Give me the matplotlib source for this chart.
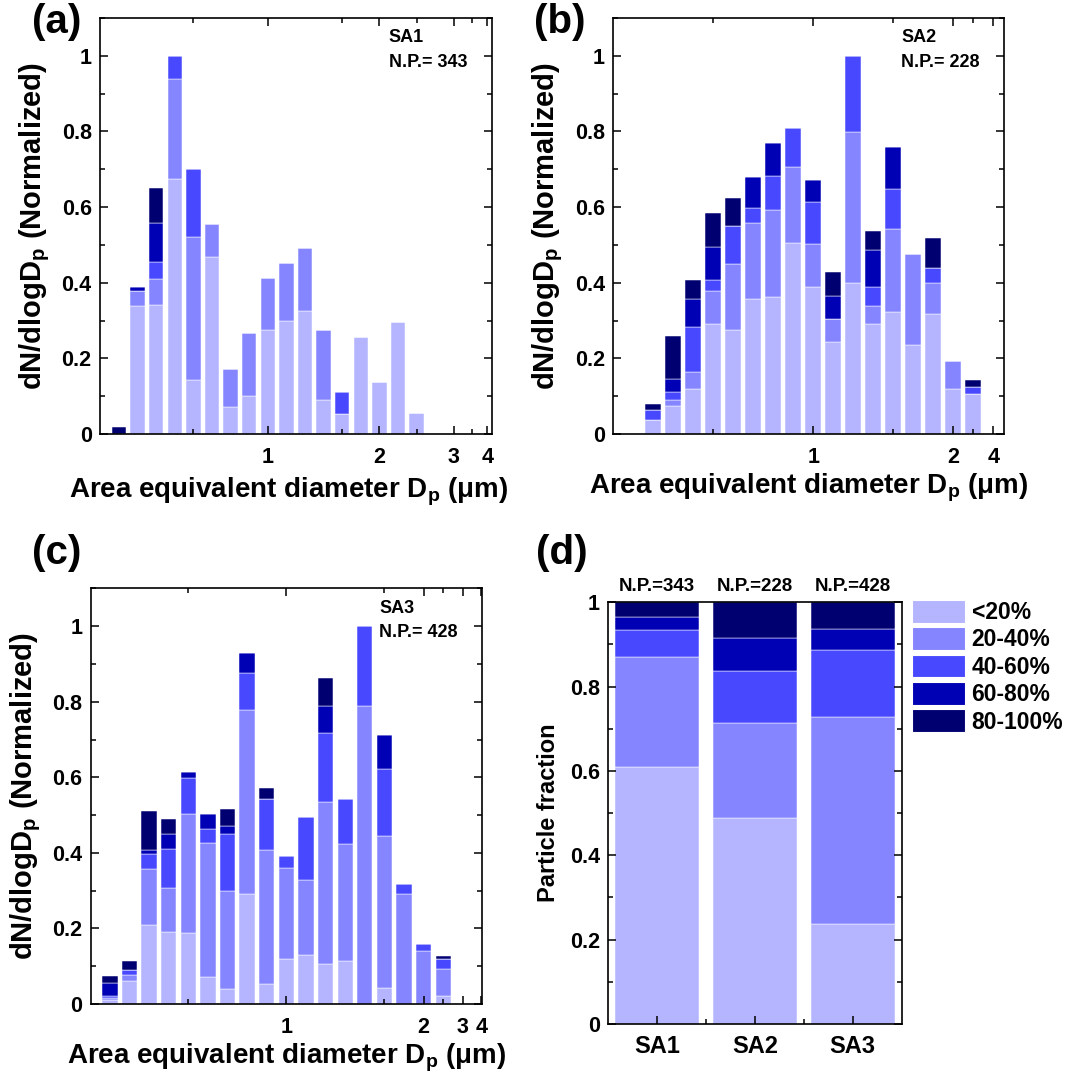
import matplotlib
matplotlib.use("Agg")
import matplotlib.pyplot as plt
from matplotlib.patches import Patch
from matplotlib.ticker import FixedLocator, MultipleLocator, FuncFormatter
from matplotlib.transforms import blended_transform_factory

plt.rcParams['font.family'] = ['Liberation Sans', 'DejaVu Sans']
plt.rcParams['font.weight'] = 'bold'
plt.rcParams['mathtext.fontset'] = 'custom'
plt.rcParams['mathtext.rm'] = 'Liberation Sans:bold'
plt.rcParams['mathtext.it'] = 'Liberation Sans:bold'
plt.rcParams['mathtext.bf'] = 'Liberation Sans:bold'

# ---------------- data ----------------
classes = ['<20%', '20-40%', '40-60%', '60-80%', '80-100%']

# SA1: normalized dN/dlogDp per size bin, split by class
sa1_lt20 = [0, 0.339, 0.340, 0.675, 0.142, 0.467, 0.072, 0.101, 0.274, 0.299, 0.325, 0.091, 0.054, 0.256, 0.138, 0.296, 0.056]
sa1_20_40 = [0, 0.039, 0.069, 0.264, 0.378, 0.087, 0.100, 0.165, 0.139, 0.154, 0.167, 0.184, 0, 0, 0, 0, 0]
sa1_40_60 = [0, 0, 0.046, 0.061, 0.182, 0, 0, 0, 0, 0, 0, 0, 0.058, 0, 0, 0, 0]
sa1_60_80 = [0, 0.011, 0.103, 0, 0, 0, 0, 0, 0, 0, 0, 0, 0, 0, 0, 0, 0]
sa1_80_100 = [0.018, 0, 0.092, 0, 0, 0, 0, 0, 0, 0, 0, 0, 0, 0, 0, 0, 0]

# SA2
sa2_lt20 = [0.038, 0.073, 0.118, 0.291, 0.275, 0.357, 0.361, 0.505, 0.390, 0.244, 0.398, 0.291, 0.323, 0.236, 0.317, 0.118, 0.106]
sa2_20_40 = [0, 0.018, 0.047, 0.087, 0.174, 0.200, 0.230, 0.202, 0.112, 0.060, 0.400, 0.048, 0.218, 0.240, 0.081, 0.074, 0]
sa2_40_60 = [0.026, 0.019, 0.119, 0.029, 0.102, 0.040, 0.090, 0.103, 0.112, 0, 0.202, 0.051, 0.107, 0, 0.040, 0, 0.018]
sa2_60_80 = [0, 0.036, 0.072, 0.088, 0, 0.082, 0.089, 0, 0.057, 0.062, 0, 0.096, 0.110, 0, 0, 0, 0]
sa2_80_100 = [0.015, 0.114, 0.051, 0.090, 0.072, 0, 0, 0, 0, 0.063, 0, 0.050, 0, 0, 0.081, 0, 0.019]

# SA3
sa3_lt20 = [0.012, 0.062, 0.209, 0.191, 0.187, 0.072, 0.040, 0.290, 0.052, 0.119, 0.129, 0.105, 0.114, 0, 0.043, 0, 0, 0.022]
sa3_20_40 = [0.004, 0.014, 0.148, 0.116, 0.316, 0.355, 0.258, 0.489, 0.355, 0.241, 0.198, 0.431, 0.310, 0.790, 0.401, 0.291, 0.141, 0.072]
sa3_40_60 = [0.006, 0.014, 0.039, 0.102, 0.095, 0.037, 0.152, 0.097, 0.136, 0.032, 0.169, 0.181, 0.119, 0.210, 0.177, 0.026, 0.017, 0.024]
sa3_60_80 = [0.033, 0, 0.011, 0.040, 0.017, 0.040, 0.020, 0.052, 0, 0, 0, 0.071, 0, 0, 0.092, 0, 0, 0]
sa3_80_100 = [0.019, 0.024, 0.103, 0.040, 0, 0, 0.047, 0, 0.029, 0, 0, 0.075, 0, 0, 0, 0, 0, 0.010]

# diameter tick labels (um)
diam_labels_sa1 = ['1', '2', '3', '4']
diam_labels_sa2 = ['1', '2', '4']
diam_labels_sa3 = ['1', '2', '3', '4']

# particle fraction per sample
samples = ['SA1', 'SA2', 'SA3']
particle_counts = [343, 228, 428]
frac_lt20 = [0.610, 0.489, 0.237]
frac_20_40 = [0.260, 0.225, 0.490]
frac_40_60 = [0.064, 0.122, 0.159]
frac_60_80 = [0.030, 0.079, 0.051]
frac_80_100 = [0.036, 0.085, 0.063]

# ---------------- style ----------------
colors = ['#B4B4FF', '#8585FF', '#4848FF', '#0000B4', '#000070']
TICK_FS = 15.5
XLABEL_FS = 20
YLABEL_FS = 21

fig = plt.figure(figsize=(10.66, 10.78), dpi=100)


def style_axes(ax):
    for sp in ax.spines.values():
        sp.set_linewidth(1.2)
    ax.tick_params(which='both', direction='in', top=True, right=True,
                   width=1.1, labelsize=TICK_FS)
    ax.tick_params(which='major', length=6)
    ax.tick_params(which='minor', length=3.5)
    ax.tick_params(axis='x', pad=9)
    ax.tick_params(axis='y', pad=6)
    for lab in ax.get_xticklabels() + ax.get_yticklabels():
        lab.set_fontweight('bold')


def size_panel(rect, series, labels, major_pos, minor_pos, xlim, name, count):
    ax = fig.add_axes(rect)
    n = len(series[0])
    x = list(range(n))
    bottom = [0.0] * n
    for vals, c in zip(series, colors):
        ax.bar(x, vals, width=0.78, bottom=bottom, color=c,
               edgecolor='white', linewidth=0.35)
        bottom = [b + v for b, v in zip(bottom, vals)]
    ax.set_xlim(*xlim)
    ax.set_ylim(0, 1.1)
    ax.xaxis.set_major_locator(FixedLocator(major_pos))
    ax.xaxis.set_minor_locator(FixedLocator(minor_pos))
    ax.set_xticklabels(labels)
    ax.yaxis.set_major_locator(MultipleLocator(0.2))
    ax.yaxis.set_minor_locator(MultipleLocator(0.1))
    ax.yaxis.set_major_formatter(FuncFormatter(lambda v, p: f"{v:g}"))
    style_axes(ax)
    ax.set_xlabel(r'Area equivalent diameter D$_\mathrm{p}$ ($\mathrm{\mu}$m)',
                  fontsize=XLABEL_FS, fontweight='bold', labelpad=3)
    ax.set_ylabel(r'dN/dlogD$_\mathrm{p}$ (Normalized)',
                  fontsize=YLABEL_FS, fontweight='bold', labelpad=7)
    ax.text(0.737, 0.952, name, transform=ax.transAxes, fontsize=13,
            fontweight='bold', va='center', ha='left')
    ax.text(0.737, 0.893, f'N.P.= {count}', transform=ax.transAxes,
            fontsize=13, fontweight='bold', va='center', ha='left')
    return ax


ax_a = size_panel([0.0938, 0.5974, 0.3677, 0.3859],
                  [sa1_lt20, sa1_20_40, sa1_40_60, sa1_60_80, sa1_80_100],
                  diam_labels_sa1, [8, 14, 18, 19.8], [4, 12, 16, 19],
                  (-1.02, 20.05), samples[0], particle_counts[0])
ax_b = size_panel([0.5753, 0.5974, 0.3668, 0.3859],
                  [sa2_lt20, sa2_20_40, sa2_40_60, sa2_60_80, sa2_80_100],
                  diam_labels_sa2, [8, 15, 17], [3, 12, 16],
                  (-2.0, 17.55), samples[1], particle_counts[1])
ax_c = size_panel([0.0851, 0.0686, 0.3674, 0.3856],
                  [sa3_lt20, sa3_20_40, sa3_40_60, sa3_60_80, sa3_80_100],
                  diam_labels_sa3, [9, 16, 18, 18.95], [4, 14, 17],
                  (-0.98, 19.0), samples[2], particle_counts[2])
ax_a.xaxis.set_label_coords(0.48, -0.1)

# ---------------- panel (d): particle fractions ----------------
ax_d = fig.add_axes([0.5706, 0.0501, 0.2752, 0.3912])
xs = list(range(len(samples)))
bottom = [0.0] * len(samples)
for vals, c, lab in zip([frac_lt20, frac_20_40, frac_40_60, frac_60_80, frac_80_100],
                        colors, classes):
    ax_d.bar(xs, vals, width=0.86, bottom=bottom, color=c,
             edgecolor='white', linewidth=0.35, label=lab)
    bottom = [b + v for b, v in zip(bottom, vals)]
ax_d.set_xlim(-0.5, 2.5)
ax_d.set_ylim(0, 1)
ax_d.xaxis.set_major_locator(FixedLocator(xs))
ax_d.xaxis.set_minor_locator(FixedLocator([0.5, 1.5]))
ax_d.set_xticklabels(samples)
ax_d.yaxis.set_major_locator(MultipleLocator(0.2))
ax_d.yaxis.set_minor_locator(MultipleLocator(0.1))
ax_d.yaxis.set_major_formatter(FuncFormatter(lambda v, p: f"{v:g}"))
style_axes(ax_d)
ax_d.tick_params(axis='x', labelsize=17, pad=8)
ax_d.tick_params(axis='x', which='both', top=False)
ax_d.set_ylabel('Particle fraction', fontsize=17, fontweight='bold', labelpad=7)
trans = blended_transform_factory(ax_d.transData, ax_d.transAxes)
for xi, cnt in zip(xs, particle_counts):
    ax_d.text(xi, 1.037, f'N.P.={cnt}', transform=trans, ha='center',
              va='center', fontsize=13.5, fontweight='bold', clip_on=False)

handles = [Patch(facecolor=c, edgecolor='white', linewidth=0.8) for c in colors]
fig.legend(handles, classes, loc='upper left',
           bbox_to_anchor=(912 / 1066, 1 - 600 / 1078),
           bbox_transform=fig.transFigure, frameon=False,
           prop={'size': 16.5, 'weight': 'bold'},
           handlelength=2.3, handleheight=1.15, handletextpad=0.3,
           labelspacing=0.14, borderpad=0, borderaxespad=0)

# panel letters
for lbl, (px, py) in zip(['(a)', '(b)', '(c)', '(d)'],
                         [(57, 22), (560, 22), (57, 553), (562, 553)]):
    fig.text(px / 1066, 1 - py / 1078, lbl, fontsize=29, fontweight='bold',
             ha='center', va='center')

fig.savefig('out.png', dpi=100)
